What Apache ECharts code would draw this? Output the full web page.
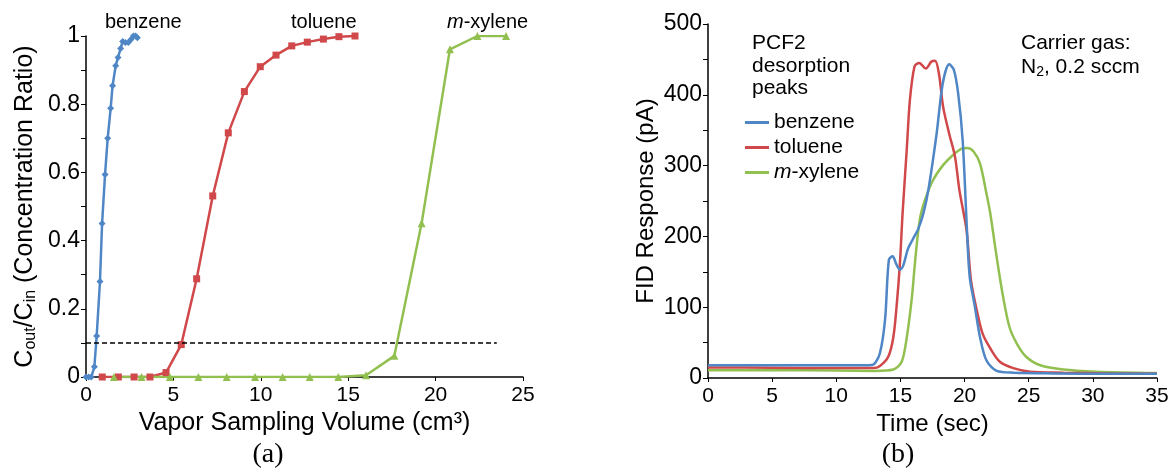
<!DOCTYPE html>
<html>
<head>
<meta charset="utf-8">
<script src="https://cdn.jsdelivr.net/npm/echarts@6/dist/echarts.min.js"></script>
<style>
  html, body { margin: 0; padding: 0; background: #fff; }
  #main { width: 1173px; height: 470px; }
</style>
</head>
<body>
<div id="main"></div>
<script>
    // (a) breakthrough curves: [volume cm3, Cout/Cin]
    var benzeneBreak = [[0, 0], [0.15, 0], [0.3, 0], [0.48, 0.03], [0.61, 0.12], [0.8, 0.28], [0.92, 0.45],
        [1.09, 0.594], [1.24, 0.70], [1.41, 0.788], [1.52, 0.854], [1.70, 0.913], [1.83, 0.937],
        [1.98, 0.963], [2.10, 0.984], [2.25, 0.981], [2.42, 0.981], [2.57, 0.99], [2.71, 1.0],
        [2.84, 1.0], [2.94, 0.995]];
    var tolueneBreak = [[0.93, 0], [1.85, 0], [2.75, 0], [3.66, 0], [4.58, 0.013], [5.45, 0.095],
        [6.33, 0.288], [7.25, 0.531], [8.14, 0.716], [9.06, 0.837], [9.97, 0.91], [10.87, 0.944],
        [11.77, 0.971], [12.66, 0.982], [13.58, 0.991], [14.47, 0.998], [15.39, 1.0]];
    var xyleneBreak = [[1.6, 0], [3.18, 0], [4.8, 0], [6.43, 0], [8.05, 0], [9.67, 0], [11.25, 0],
        [12.8, 0], [14.43, 0], [16.02, 0.005], [17.64, 0.062], [19.2, 0.451], [20.82, 0.961],
        [22.39, 1.0], [24.03, 1.0]];
    var thresholdLine = 0.1;

    // (b) desorption peaks: [time sec, pA]
    var benzenePeak = [[0, 18], [5, 18], [10, 18], [12.5, 18], [12.9, 19], [13.4, 35], [13.8, 82],
        [14.1, 167], [14.4, 172], [14.65, 162], [14.96, 153], [15.2, 158], [15.6, 183], [16.0, 197],
        [16.4, 211], [16.8, 233], [17.2, 268], [17.82, 345], [18.3, 416], [18.8, 443], [19.17, 435],
        [19.5, 402], [19.85, 336], [20.2, 204], [20.4, 143], [20.8, 101], [21.2, 58], [21.7, 25],
        [22.5, 10], [23.8, 7.5], [27, 6.5], [31, 6], [35, 6]];
    var toluenePeak = [[0, 15], [5, 14.5], [10, 14], [12.9, 14], [13.4, 17], [14.05, 30], [14.45, 58],
        [14.7, 101], [14.96, 162], [15.17, 233], [15.49, 322], [15.74, 393], [16.1, 440], [16.47, 445],
        [16.98, 437], [17.42, 447], [17.7, 448], [18.0, 430], [18.33, 383], [18.8, 345], [19.25, 313],
        [19.6, 265], [20.15, 209], [20.5, 138], [20.95, 96], [21.4, 63], [22.0, 42], [22.75, 23],
        [23.8, 14], [25.1, 9], [27.7, 7.5], [31, 6.5], [35, 6]];
    var xylenePeak = [[0, 11], [5, 11], [10, 10.5], [13, 10], [14.45, 12], [15.1, 23], [15.5, 58],
        [15.9, 115], [16.13, 162], [16.5, 223], [16.9, 251], [17.56, 280], [18.34, 301], [19.1, 315],
        [19.77, 324], [20.2, 325], [20.7, 320], [21.2, 303], [21.7, 261], [22.0, 233], [22.5, 171],
        [23.0, 115], [23.5, 72], [24.06, 49], [24.8, 30], [25.9, 18], [27.7, 12], [30.3, 9], [35, 7]];

    var peakNames = ['benzene', 'toluene', 'm-xylene'];
    var colors = ['#4f86c6', '#d0484a', '#92c050'];

    var font = 'Liberation Sans, Arial, sans-serif';
    var serif = 'Liberation Serif, Times New Roman, serif';
    var axisLine = { lineStyle: { color: '#000', width: 1.5 } };

    var myChart = echarts.init(document.getElementById('main'));
    var option = {
        backgroundColor: '#fff',
        animation: false,
        textStyle: { fontFamily: font, color: '#000' },
        legend: {
            data: peakNames,
            orient: 'vertical',
            left: 740,
            top: 107,
            icon: 'rect',
            itemWidth: 24,
            itemHeight: 3,
            itemGap: 4,
            selectedMode: false,
            textStyle: {
                fontSize: 21, color: '#000', fontFamily: font,
                rich: { i: { fontSize: 21, fontStyle: 'italic', fontFamily: font } }
            },
            formatter: function (name) {
                return name === 'm-xylene' ? '{i|m}-xylene' : name;
            }
        },
        grid: [
            { left: 86, right: 650, top: 36, bottom: 93 },
            { left: 708, right: 16, top: 24, bottom: 92 }
        ],
        xAxis: [{
            gridIndex: 0, type: 'value', min: 0, max: 25, interval: 5,
            name: 'Vapor Sampling Volume (cm³)', nameLocation: 'middle', nameGap: 29,
            nameTextStyle: { fontSize: 25, color: '#000' },
            axisLine: axisLine, axisTick: { length: 4, lineStyle: { color: '#000' } },
            axisLabel: { fontSize: 21, color: '#000', margin: 8 },
            splitLine: { show: false }
        }, {
            gridIndex: 1, type: 'value', min: 0, max: 35, interval: 5,
            name: 'Time (sec)', nameLocation: 'middle', nameGap: 32,
            nameTextStyle: { fontSize: 24, color: '#000' },
            axisLine: axisLine, axisTick: { length: 4, lineStyle: { color: '#000' } },
            axisLabel: { fontSize: 21, color: '#000', margin: 8 },
            splitLine: { show: false }
        }],
        yAxis: [{
            gridIndex: 0, type: 'value', min: 0, max: 1, interval: 0.2,
            name: 'C{sub|out}/C{sub|in} (Concentration Ratio)', nameLocation: 'middle', nameGap: 47,
            nameRotate: 90,
            nameTextStyle: {
                fontSize: 25, color: '#000', lineHeight: 28,
                rich: {
                    sub: { fontSize: 16, verticalAlign: 'bottom', lineHeight: 14, color: '#000' }
                }
            },
            axisLine: { show: true, lineStyle: { color: '#000', width: 1.5 } },
            axisTick: { show: true, length: 5, lineStyle: { color: '#000' } },
            minorTick: { show: true, splitNumber: 2, length: 5, lineStyle: { color: '#000' } },
            axisLabel: { fontSize: 23, color: '#000', margin: 6 },
            splitLine: { show: false }
        }, {
            gridIndex: 1, type: 'value', min: 0, max: 500, interval: 100,
            name: 'FID Response (pA)', nameLocation: 'middle', nameGap: 50,
            nameRotate: 90,
            nameTextStyle: { fontSize: 24, color: '#000' },
            axisLine: { show: true, lineStyle: { color: '#000', width: 1.5 } },
            axisTick: { show: true, length: 5, lineStyle: { color: '#000' } },
            minorTick: { show: true, splitNumber: 2, length: 5, lineStyle: { color: '#000' } },
            axisLabel: { fontSize: 23, color: '#000', margin: 6 },
            splitLine: { show: false }
        }],
        graphic: [
            { type: 'text', left: 105, top: 12, style: { text: 'benzene', fontSize: 20, fontFamily: font, fill: '#000' } },
            { type: 'text', left: 291, top: 12, style: { text: 'toluene', fontSize: 20, fontFamily: font, fill: '#000' } },
            {
                type: 'text', left: 447, top: 12,
                style: {
                    text: '{i|m}-xylene', fontSize: 20, fontFamily: font, fill: '#000',
                    rich: { i: { fontStyle: 'italic', fontSize: 20, fontFamily: font, fill: '#000' } }
                }
            },
            {
                type: 'text', left: 752, top: 32,
                style: { text: 'PCF2\ndesorption\npeaks', fontSize: 21, lineHeight: 22.5, fontFamily: font, fill: '#000' }
            },
            {
                type: 'text', left: 1021, top: 31,
                style: {
                    text: 'Carrier gas:\nN{sub|2}, 0.2 sccm', fontSize: 21, lineHeight: 24, fontFamily: font, fill: '#000',
                    rich: { sub: { fontSize: 14, verticalAlign: 'bottom', lineHeight: 12, fontFamily: font, fill: '#000' } }
                }
            },
            { type: 'text', style: { text: '(a)', x: 268, y: 455, textAlign: 'center', textVerticalAlign: 'middle', fontSize: 28, fontFamily: serif, fill: '#000' } },
            { type: 'text', style: { text: '(b)', x: 898, y: 455, textAlign: 'center', textVerticalAlign: 'middle', fontSize: 28, fontFamily: serif, fill: '#000' } }
        ],
        series: [{
            name: 'benzene (a)', type: 'line', xAxisIndex: 0, yAxisIndex: 0,
            data: benzeneBreak, symbol: 'diamond', symbolSize: 7,
            itemStyle: { color: colors[0] }, lineStyle: { color: colors[0], width: 2.5 },
            markLine: {
                silent: true, symbol: 'none', label: { show: false },
                lineStyle: { color: '#000', type: [5, 3], width: 1.5 },
                data: [[{ coord: [0, thresholdLine] }, { coord: [23.5, thresholdLine] }]]
            }
        }, {
            name: 'toluene (a)', type: 'line', xAxisIndex: 0, yAxisIndex: 0,
            data: tolueneBreak, symbol: 'rect', symbolSize: 7,
            itemStyle: { color: colors[1] }, lineStyle: { color: colors[1], width: 2.5 }
        }, {
            name: 'm-xylene (a)', type: 'line', xAxisIndex: 0, yAxisIndex: 0,
            data: xyleneBreak, symbol: 'triangle', symbolSize: 8,
            itemStyle: { color: colors[2] }, lineStyle: { color: colors[2], width: 2.5 }
        }, {
            name: peakNames[2], type: 'line', xAxisIndex: 1, yAxisIndex: 1,
            data: xylenePeak, showSymbol: false, smooth: 0.3,
            itemStyle: { color: colors[2] }, lineStyle: { color: colors[2], width: 2.5 }
        }, {
            name: peakNames[1], type: 'line', xAxisIndex: 1, yAxisIndex: 1,
            data: toluenePeak, showSymbol: false, smooth: 0.3,
            itemStyle: { color: colors[1] }, lineStyle: { color: colors[1], width: 2.5 }
        }, {
            name: peakNames[0], type: 'line', xAxisIndex: 1, yAxisIndex: 1,
            data: benzenePeak, showSymbol: false, smooth: 0.3,
            itemStyle: { color: colors[0] }, lineStyle: { color: colors[0], width: 2.5 }
        }]
    };
    myChart.setOption(option);

    window.addEventListener('resize', function () {
        myChart.resize();
    });
</script>
</body>
</html>
